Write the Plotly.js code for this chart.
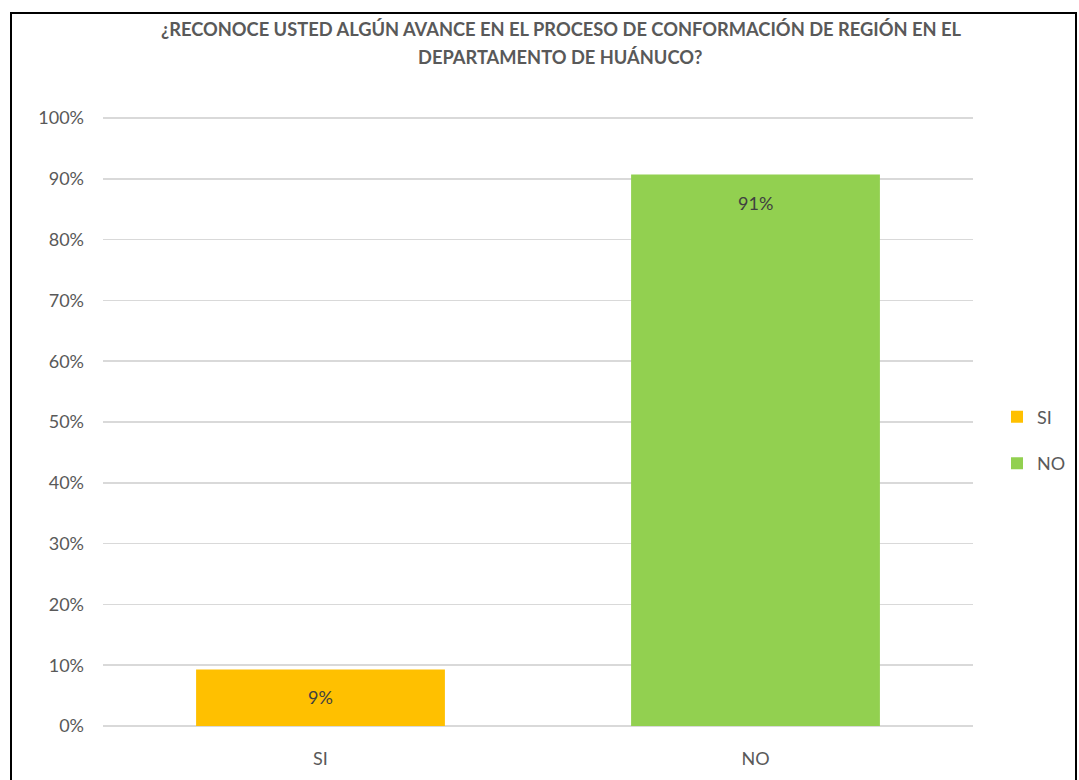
<!DOCTYPE html>
<html>
<head>
<meta charset="utf-8">
<script src="https://cdn.plot.ly/plotly-3.0.1.min.js"></script>
<style>
html,body{margin:0;padding:0;background:#fff;}
#frame{position:absolute;left:10px;top:12px;width:1067px;height:800px;border:2px solid #000;box-sizing:border-box;pointer-events:none;z-index:5;}
#chart{position:absolute;left:0;top:0;width:1079px;height:780px;}
</style>
</head>
<body>
<div id="chart"></div>
<div id="frame"></div>
<script>
var categories = ["SI", "NO"];
var values = [0.093, 0.907];
var labels = ["9%", "91%"];
var colors = ["#FFC000", "#92D050"];
var titleLine1 = "¿RECONOCE USTED ALGÚN AVANCE EN EL PROCESO DE CONFORMACIÓN DE REGIÓN EN EL";
var titleLine2 = "DEPARTAMENTO DE HUÁNUCO?";
var tickVals = [0,0.1,0.2,0.3,0.4,0.5,0.6,0.7,0.8,0.9,1.0];
var tickText = ["0%","10%","20%","30%","40%","50%","60%","70%","80%","90%","100%"];

var FONT = "Lato, 'Liberation Sans Narrow', sans-serif";
var textColor = "#595959";

var traces = categories.map(function(c, i){
  return {
    type: "bar",
    x: [c],
    y: [values[i]],
    name: c,
    legendgroup: c,
    marker: {color: colors[i]},
    hoverinfo: "none"
  };
});

var annotations = categories.map(function(c, i){
  return {
    x: c, y: values[i], xref: "x", yref: "y",
    text: labels[i], showarrow: false, yanchor: "middle",
    yshift: -28,
    font: {family: FONT, size: 18, color: "#404040"}
  };
});
annotations.push({
  x: 0.5253, y: 1.0949, xref: "paper", yref: "paper",
  text: "<b>" + titleLine2 + "</b>", showarrow: false,
  xanchor: "center", yanchor: "middle",
  font: {family: FONT, size: 18.3, color: textColor}
});

var layout = {
  width: 1079, height: 780,
  paper_bgcolor: "#fff", plot_bgcolor: "#fff",
  margin: {l: 103, r: 106, t: 115, b: 54, autoexpand: false},
  title: {
    text: "<b>" + titleLine1 + "</b>",
    x: 561/1079, xref: "container", xanchor: "center",
    y: 1 - 30/780, yref: "container", yanchor: "middle",
    font: {family: FONT, size: 18.3, color: textColor}
  },
  barmode: "group",
  bargap: 0.428,
  xaxis: {
    type: "category",
    showgrid: false, showline: false, zeroline: false, ticks: "",
    tickfont: {family: FONT, size: 18, color: textColor},
    ticklabelstandoff: 20,
    automargin: false
  },
  yaxis: {
    range: [0, 1.005],
    tickvals: tickVals, ticktext: tickText,
    showgrid: true, gridcolor: "#D9D9D9", gridwidth: 1.5,
    zeroline: true, zerolinecolor: "#D9D9D9", zerolinewidth: 1.5,
    showline: false, ticks: "",
    tickfont: {family: FONT, size: 18, color: textColor},
    ticklabelstandoff: 18,
    automargin: false
  },
  showlegend: true,
  legend: {
    xref: "container", x: 997/1079, xanchor: "left",
    y: 0.468, yanchor: "middle",
    traceorder: "grouped", tracegroupgap: 20,
    font: {family: FONT, size: 18, color: textColor},
    bgcolor: "rgba(0,0,0,0)"
  },
  annotations: annotations
};

Plotly.newPlot("chart", traces, layout, {displayModeBar: false, staticPlot: true});
</script>
</body>
</html>
